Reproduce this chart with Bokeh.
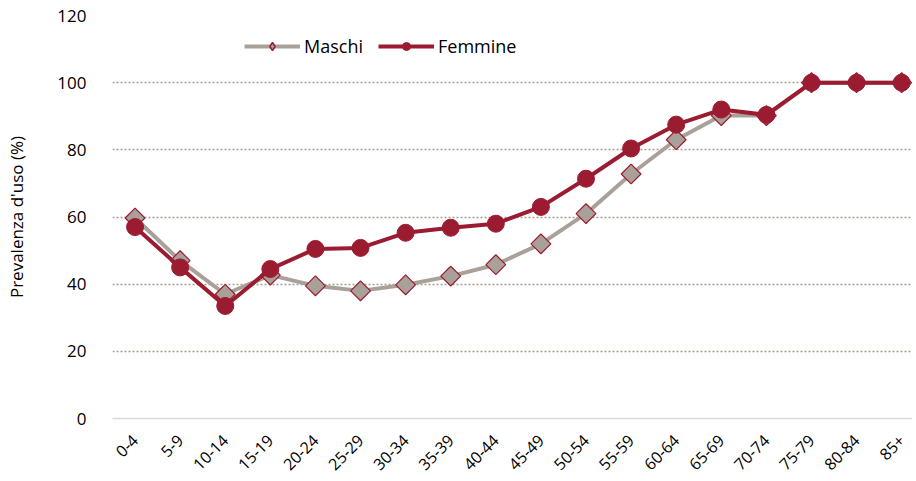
from bokeh.plotting import figure
from bokeh.models import ColumnDataSource, Legend, LegendItem, FixedTicker, Range1d
from bokeh.embed import file_html
from bokeh.resources import INLINE

categories = ["0-4", "5-9", "10-14", "15-19", "20-24", "25-29", "30-34", "35-39", "40-44",
              "45-49", "50-54", "55-59", "60-64", "65-69", "70-74", "75-79", "80-84", "85+"]
maschi = [59.7, 47, 37, 42.7, 39.5, 38, 39.8, 42.4, 45.8, 52, 61, 72.8, 83, 90.2, 90.2, 100, 100, 100]
femmine = [57, 45, 33.5, 44.5, 50.5, 50.8, 55.3, 56.8, 58, 63, 71.4, 80.4, 87.5, 92, 90.4, 100, 100, 100]
y_ticks = [0, 20, 40, 60, 80, 100, 120]

RED = "#9b1c31"
GREY = "#a9a199"
FONT = "Open Sans"

xs = list(range(len(categories)))
src = ColumnDataSource(dict(x=xs, m=maschi, f=femmine))
# off-range point used only for drawing legend markers
offsrc = ColumnDataSource(dict(x=[-50], y=[-50]))

p = figure(width=912, height=478, output_backend="svg", toolbar_location=None,
           x_range=Range1d(-0.5, 17.24), y_range=Range1d(0, 120))
p.min_border_left = 112
p.min_border_right = 0
p.min_border_top = 15
p.min_border_bottom = 0
p.outline_line_color = None

lm = p.line("x", "m", source=src, line_color=GREY, line_width=4)
dm = p.scatter("x", "m", source=src, marker="square", angle=0.785, size=14,
               fill_color=GREY, line_color=RED, line_width=1.2)
lf = p.line("x", "f", source=src, line_color=RED, line_width=4)
cf = p.scatter("x", "f", source=src, marker="circle", size=17, fill_color=RED,
               line_color=RED)
dm_leg = p.scatter("x", "y", source=offsrc, marker="diamond", size=15,
                   fill_color=GREY, line_color=RED, line_width=1.5)
cf_leg = p.scatter("x", "y", source=offsrc, marker="circle", size=12, fill_color=RED,
                   line_color=RED)

p.xaxis.ticker = FixedTicker(ticks=xs)
p.xaxis.major_label_overrides = {i: c for i, c in enumerate(categories)}
p.xaxis.major_label_orientation = 0.785
p.xaxis.major_tick_line_color = None
p.xaxis.minor_tick_line_color = None
p.xaxis.axis_line_color = "#d9d9d9"
p.xaxis.axis_line_width = 1.5
p.xaxis.major_label_text_font = FONT
p.xaxis.major_label_text_font_size = "16px"
p.xaxis.major_label_text_color = "#000000"
p.xaxis.major_label_standoff = 13

p.yaxis.ticker = FixedTicker(ticks=y_ticks)
p.yaxis.axis_line_color = None
p.yaxis.major_tick_line_color = None
p.yaxis.minor_tick_line_color = None
p.yaxis.major_label_text_font = FONT
p.yaxis.major_label_text_font_size = "17px"
p.yaxis.major_label_text_color = "#000000"
p.yaxis.major_label_standoff = 20
p.yaxis.axis_label = "Prevalenza d'uso (%)"
p.yaxis.axis_label_text_font = FONT
p.yaxis.axis_label_text_font_size = "17px"
p.yaxis.axis_label_text_font_style = "normal"
p.yaxis.axis_label_text_color = "#000000"
p.yaxis.axis_label_standoff = 26

p.xgrid.grid_line_color = None
p.ygrid.grid_line_color = "#a59c94"
p.ygrid.grid_line_dash = "2 2"
p.ygrid.grid_line_width = 1.5

legend = Legend(items=[LegendItem(label="Maschi", renderers=[lm, dm_leg]),
                       LegendItem(label="Femmine", renderers=[lf, cf_leg])],
                orientation="horizontal", location=(132, 360))
legend.label_text_font = FONT
legend.label_text_font_size = "18px"
legend.label_text_color = "#000000"
legend.glyph_width = 56
legend.glyph_height = 20
legend.spacing = 15
legend.label_standoff = 4
legend.border_line_color = None
legend.background_fill_alpha = 0
legend.padding = 0
legend.margin = 0
p.add_layout(legend, "center")

open("out.html", "w").write(file_html(p, INLINE))
